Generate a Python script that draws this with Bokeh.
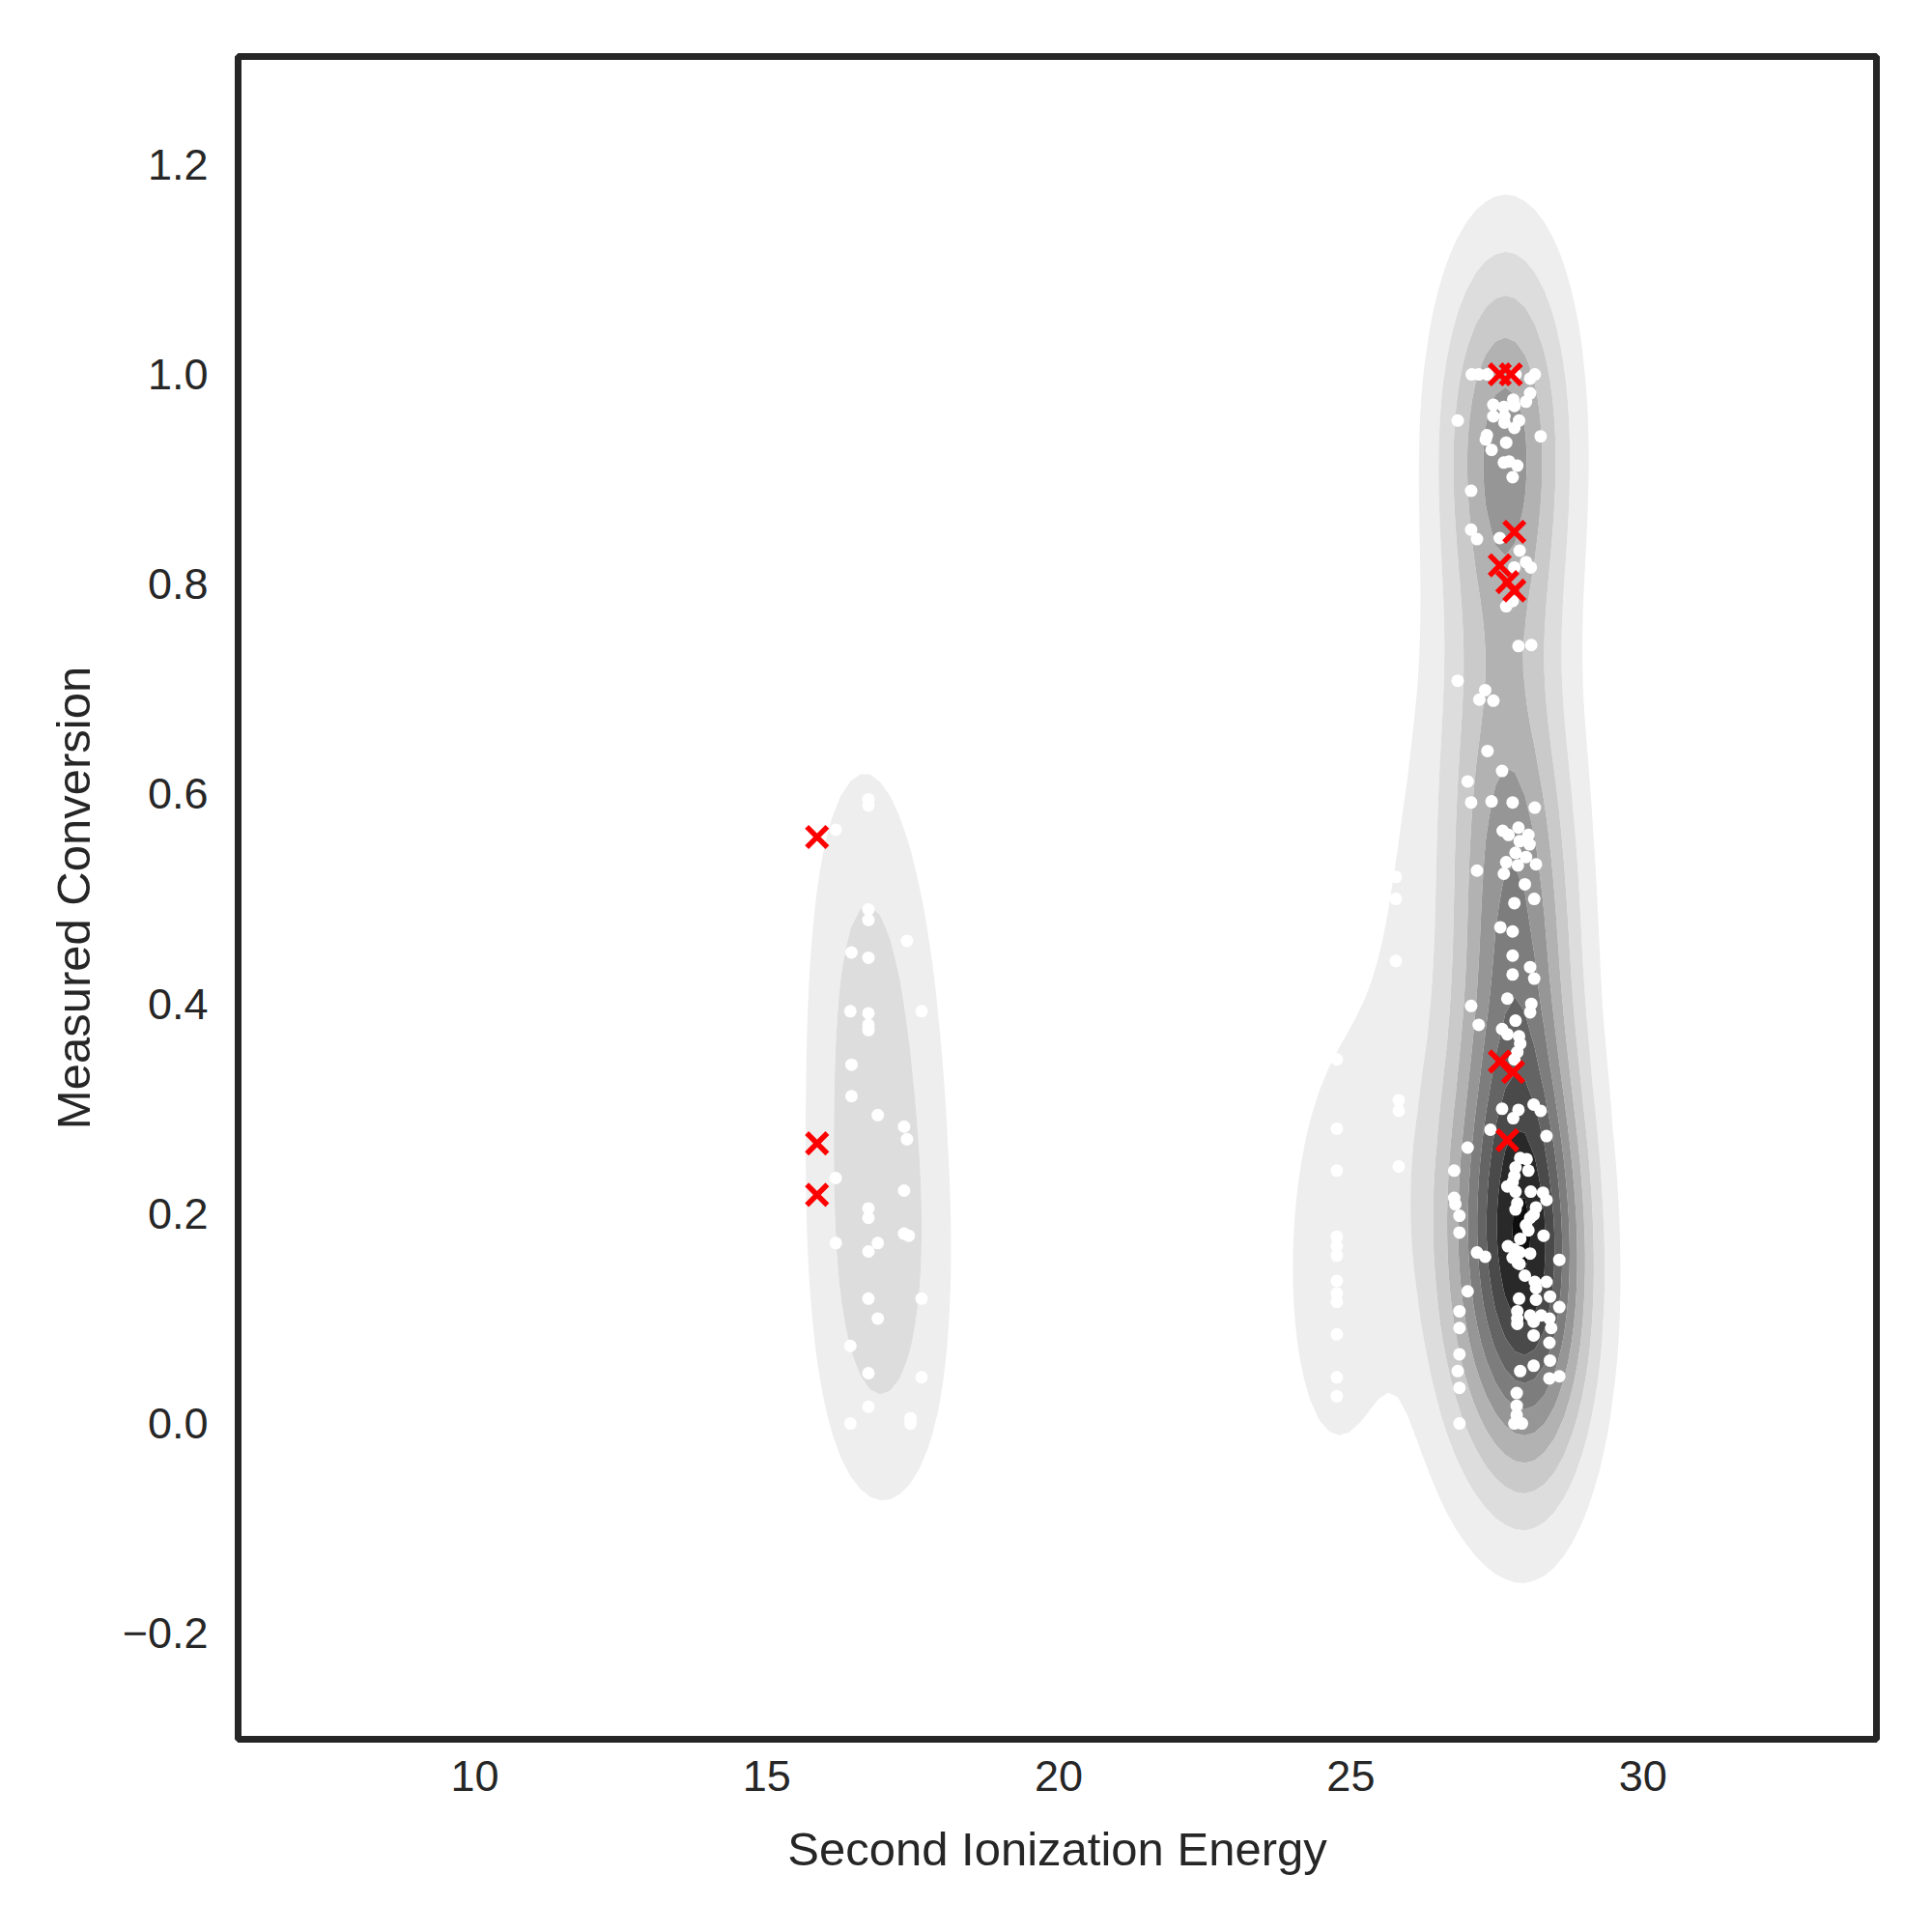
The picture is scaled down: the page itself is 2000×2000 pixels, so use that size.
import numpy as np
from bokeh.plotting import figure
from bokeh.models import Range1d, FixedTicker, CustomJSTickFormatter
from bokeh.embed import file_html
from bokeh.resources import INLINE

# ---------------- data ----------------
# left cluster (white points)
left_x = [16.74, 16.74, 16.18, 16.74, 16.74, 17.40, 16.45, 16.74, 16.43, 17.65,
          16.74, 16.74, 16.74, 16.45, 16.45, 16.90, 17.35, 17.40, 16.18, 17.35,
          16.74, 16.74, 17.35, 17.43, 16.18, 16.90, 16.74, 16.74, 17.65, 16.90,
          16.43, 16.74, 17.65, 16.74, 16.43, 17.46, 17.46]
left_y = [0.595, 0.589, 0.566, 0.490, 0.480, 0.460, 0.449, 0.444, 0.393, 0.393,
          0.391, 0.380, 0.375, 0.342, 0.312, 0.294, 0.283, 0.271, 0.234, 0.222,
          0.205, 0.196, 0.181, 0.179, 0.172, 0.172, 0.164, 0.119, 0.119, 0.100,
          0.074, 0.048, 0.044, 0.016, 0.000, 0.005, 0.000]

# columns left of the main cluster (white points)
col_x = [24.76, 25.82, 25.82, 24.76, 25.82, 24.76, 24.76, 24.76, 24.76, 24.76,
         24.76, 24.76, 24.76, 24.76, 24.76, 25.77, 25.77, 25.77, 25.80]
col_y = [0.347, 0.308, 0.298, 0.281, 0.245, 0.241, 0.178, 0.169, 0.160, 0.136,
         0.124, 0.116, 0.085, 0.044, 0.026, 0.521, 0.500, 0.441, 0.620]

# main cluster, upper part (white points)
upper_x = [27.07, 27.19, 27.34, 27.82, 28.15, 28.07, 28.07, 28.00, 27.78, 27.80,
           27.44, 27.62, 27.44, 27.63, 27.63, 27.88, 27.80, 26.83, 28.25, 27.33,
           27.31, 27.66, 27.41, 27.62, 27.71, 27.85, 27.77, 27.06, 27.06, 27.16,
           27.55, 27.89, 27.80, 28.00, 28.08, 27.66, 27.77, 27.87, 28.09, 26.83,
           27.30, 27.20, 27.44]
upper_y = [1.000, 1.000, 1.000, 1.000, 1.000, 0.996, 0.982, 0.974, 0.976, 0.970,
           0.971, 0.969, 0.960, 0.960, 0.954, 0.956, 0.949, 0.956, 0.941, 0.942,
           0.938, 0.935, 0.928, 0.916, 0.917, 0.913, 0.902, 0.889, 0.852, 0.843,
           0.844, 0.832, 0.816, 0.821, 0.816, 0.779, 0.784, 0.741, 0.742, 0.708,
           0.699, 0.690, 0.689]

# main cluster, middle part (white points)
mid_x = [27.34, 27.59, 27.00, 27.06, 27.41, 27.77, 28.15, 27.60, 27.70, 27.87,
         27.89, 28.04, 28.06, 27.82, 28.00, 27.66, 27.86, 28.17, 27.16, 27.62,
         27.98, 27.80, 28.14, 27.56, 27.77, 27.77, 28.07, 27.77, 28.14, 27.68,
         27.06, 28.09, 28.07, 27.19, 27.82, 27.59, 27.68, 27.88, 27.90, 27.85,
         27.80, 27.59, 27.87, 28.13, 28.25, 27.78]
mid_y = [0.641, 0.622, 0.612, 0.592, 0.593, 0.592, 0.587, 0.565, 0.561, 0.568,
         0.555, 0.561, 0.552, 0.544, 0.540, 0.535, 0.532, 0.533, 0.527, 0.524,
         0.514, 0.496, 0.500, 0.473, 0.469, 0.446, 0.435, 0.428, 0.424, 0.405,
         0.398, 0.400, 0.392, 0.380, 0.384, 0.376, 0.371, 0.369, 0.362, 0.354,
         0.347, 0.300, 0.299, 0.304, 0.298, 0.291]

# main cluster, lower part (white points)
low_x = [27.00, 27.39, 28.35, 26.77, 26.77, 26.79, 26.86, 26.86, 27.16, 27.30,
         27.00, 26.86, 26.86, 26.86, 26.83, 26.86, 26.86,
         27.90, 28.01, 28.04, 27.82, 27.80, 27.77, 27.68, 27.82, 28.08, 28.29,
         28.35, 27.85, 27.82, 28.17, 28.13, 28.07, 28.00, 28.04, 28.30, 27.90,
         27.69, 27.80, 27.89, 28.07, 27.77, 27.86, 27.89, 28.57, 27.98, 28.15,
         28.35, 28.17, 27.88, 28.17, 28.41, 28.57, 27.85, 27.85, 27.85, 28.07,
         28.13, 28.26, 28.40, 28.43, 28.13, 28.40, 28.41, 28.13, 27.90, 28.40,
         28.57, 27.84, 27.84, 27.84, 27.80, 27.93]
low_y = [0.263, 0.280, 0.274, 0.241, 0.215, 0.209, 0.198, 0.182, 0.163, 0.159,
         0.126, 0.107, 0.091, 0.066, 0.050, 0.034, 0.000,
         0.253, 0.252, 0.241, 0.244, 0.236, 0.230, 0.226, 0.221, 0.221, 0.220,
         0.213, 0.210, 0.204, 0.206, 0.199, 0.196, 0.189, 0.184, 0.179, 0.176,
         0.169, 0.166, 0.163, 0.162, 0.158, 0.153, 0.152, 0.156, 0.141, 0.135,
         0.135, 0.129, 0.119, 0.118, 0.121, 0.111, 0.107, 0.100, 0.095, 0.103,
         0.097, 0.103, 0.100, 0.091, 0.084, 0.077, 0.060, 0.055, 0.050, 0.043,
         0.045, 0.029, 0.017, 0.008, 0.000, 0.000]

# highlighted samples (red crosses)
red_x = [15.86, 15.86, 15.86, 27.55, 27.74, 27.80, 27.55, 27.68, 27.80, 27.55,
         27.78, 27.68]
red_y = [0.559, 0.267, 0.218, 1.000, 1.000, 0.850, 0.818, 0.802, 0.794, 0.345,
         0.335, 0.270]

x_ticks = [10, 15, 20, 25, 30]
y_ticks = [-0.2, 0.0, 0.2, 0.4, 0.6, 0.8, 1.0, 1.2]

# ---------------- kernel density of the white points (product gaussian kernel) ----------------
white_x = left_x + col_x + upper_x + mid_x + low_x
white_y = left_y + col_y + upper_y + mid_y + low_y
kx = np.array(white_x, dtype=float)
ky = np.array(white_y, dtype=float)
n = len(kx)


def bw_scott(v):
    iqr = (np.percentile(v, 75) - np.percentile(v, 25)) / 1.349
    a = min(np.std(v, ddof=1), iqr)
    return 1.059 * a * len(v) ** (-0.2)


bx, by = bw_scott(kx) * 1.25, bw_scott(ky) * 1.1
gx = np.linspace(kx.min() - 3 * bx, kx.max() + 3 * bx, 100)
gy = np.linspace(ky.min() - 3 * by, ky.max() + 3 * by, 100)
kxx = np.exp(-0.5 * ((gx[None, :] - kx[:, None]) / bx) ** 2) / (np.sqrt(2 * np.pi) * bx)
kyy = np.exp(-0.5 * ((gy[None, :] - ky[:, None]) / by) ** 2) / (np.sqrt(2 * np.pi) * by)
dens = (kyy.T @ kxx) / n          # shape (ny, nx)

# 11 equal density intervals, the lowest one left unshaded
n_int = 11
step = dens.max() / 10.2
levels = [step * i for i in range(1, n_int + 1)]

greys = [1.0, 0.94117647, 0.85098039, 0.74117647, 0.58823529, 0.45098039,
         0.32156863, 0.14509804, 0.0]


def grey_hex(t):
    g = np.interp(t, np.linspace(0, 1, len(greys)), greys)
    c = int(round(g * 255))
    return "#%02x%02x%02x" % (c, c, c)


fill_colors = [grey_hex((i + 0.5) / n_int) for i in range(1, n_int)]

# ---------------- figure ----------------
p = figure(width=1984, height=1984,
           x_range=Range1d(5.947, 34.0), y_range=Range1d(-0.301, 1.303),
           output_backend="svg", toolbar_location=None,
           min_border_left=246, min_border_right=42,
           min_border_top=58, min_border_bottom=184,
           background_fill_color="white", border_fill_color="white")
p.grid.visible = False
p.outline_line_color = "#262626"
p.outline_line_width = 7

p.contour(x=gx, y=gy, z=dens, levels=levels, fill_color=fill_colors,
          line_color=None)

p.scatter(white_x, white_y, marker="circle", size=13, fill_color="white",
          line_color=None)
p.scatter(red_x, red_y, marker="x", size=30, line_color="red", line_width=5.5)

for ax in (p.xaxis[0], p.yaxis[0]):
    ax.axis_line_color = None
    ax.major_tick_line_color = None
    ax.minor_tick_line_color = None
    ax.major_tick_out = 0
    ax.major_tick_in = 0
    ax.minor_tick_out = 0
    ax.minor_tick_in = 0
    ax.major_label_text_font = "Liberation Sans"
    ax.major_label_text_font_size = "45px"
    ax.major_label_text_color = "#262626"
    ax.axis_label_text_font = "Liberation Sans"
    ax.axis_label_text_font_size = "49px"
    ax.axis_label_text_font_style = "normal"
    ax.axis_label_text_color = "#262626"

p.xaxis[0].ticker = FixedTicker(ticks=x_ticks)
p.yaxis[0].ticker = FixedTicker(ticks=y_ticks)
p.xaxis[0].formatter = CustomJSTickFormatter(
    code="return (tick < -1e-9 ? '\u2212' : '') + Math.abs(tick).toFixed(0);")
p.yaxis[0].formatter = CustomJSTickFormatter(
    code="return (tick < -1e-9 ? '\u2212' : '') + Math.abs(tick).toFixed(1);")
p.xaxis[0].axis_label = "Second Ionization Energy"
p.yaxis[0].axis_label = "Measured Conversion"
p.xaxis[0].major_label_standoff = 22
p.xaxis[0].axis_label_standoff = 30
p.yaxis[0].major_label_standoff = 31
p.yaxis[0].axis_label_standoff = 21

open("out.html", "w").write(file_html(p, INLINE))
